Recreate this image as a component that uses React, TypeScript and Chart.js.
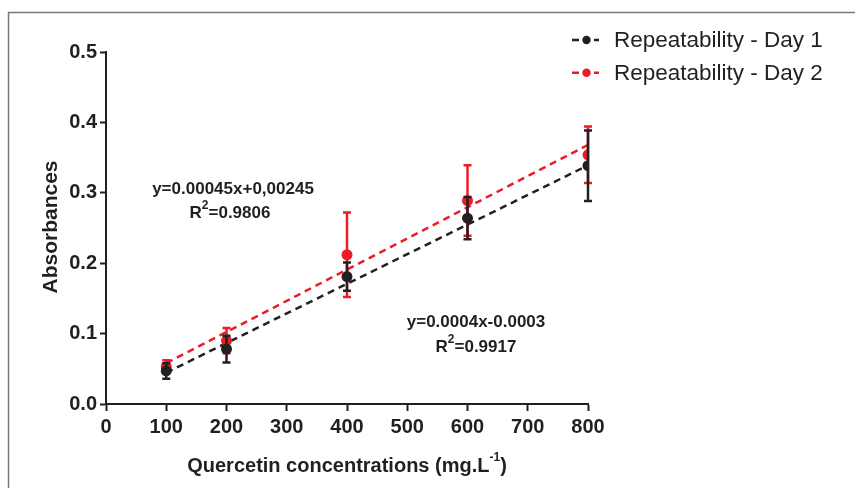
import React, { useEffect, useRef } from "react";
import { Chart, registerables } from "chart.js";

Chart.register(...registerables);

// ---- Data ----
const concentrations = [100, 200, 400, 600, 800];
const day1Means = [0.047, 0.078, 0.181, 0.264, 0.3385];
const day1Errors = [0.011, 0.019, 0.02, 0.03, 0.05];
const day2Means = [0.053, 0.09, 0.212, 0.289, 0.354];
const day2Errors = [0.009, 0.018, 0.06, 0.05, 0.04];
const fitX = [100, 800];
const day1Fit = [0.0445, 0.339];
const day2Fit = [0.058, 0.368];
const seriesNames = ["Repeatability - Day 1", "Repeatability - Day 2"];
const seriesColors = ["#231f20", "#ed1c24"];
const xTickValues = [0, 100, 200, 300, 400, 500, 600, 700, 800];
const yTickValues = [0.0, 0.1, 0.2, 0.3, 0.4, 0.5];
const yTitle = "Absorbances";
const xTitleMain = "Quercetin concentrations (mg.L";
const xTitleSup = "-1";
const xTitleEnd = ")";
const equationDay2 = "y=0.00045x+0,00245";
const r2Day2 = "0.9806";
const equationDay1 = "y=0.0004x-0.0003";
const r2Day1 = "0.9917";

const FONT = "'Liberation Sans', Arial, Helvetica, sans-serif";
const INK = "#231f20";

function drawR2(ctx: CanvasRenderingContext2D, value: string, cx: number, cy: number) {
  const big = "bold 17px " + FONT;
  const small = "bold 12px " + FONT;
  ctx.font = big;
  const wR = ctx.measureText("R").width;
  const wRest = ctx.measureText("=" + value).width;
  ctx.font = small;
  const wS = ctx.measureText("2").width;
  const total = wR + wS + wRest;
  let x = cx - total / 2;
  ctx.textAlign = "left";
  ctx.textBaseline = "middle";
  ctx.font = big;
  ctx.fillText("R", x, cy);
  x += wR;
  ctx.font = small;
  ctx.fillText("2", x, cy - 7);
  x += wS;
  ctx.font = big;
  ctx.fillText("=" + value, x, cy);
}

const errorBarPlugin = {
  id: "errorBars",
  beforeDatasetDraw(chart: any, args: any) {
    const ds = chart.data.datasets[args.index];
    if (!ds.errors) return;
    const { ctx } = chart;
    const xs = chart.scales.x;
    const ys = chart.scales.y;
    ctx.save();
    ctx.strokeStyle = ds.borderColor;
    ctx.lineWidth = 2.5;
    ctx.lineCap = "butt";
    ds.data.forEach((p: any, i: number) => {
      const px = xs.getPixelForValue(p.x);
      const top = ys.getPixelForValue(p.y + ds.errors[i]);
      const bot = ys.getPixelForValue(p.y - ds.errors[i]);
      ctx.beginPath();
      ctx.moveTo(px, top);
      ctx.lineTo(px, bot);
      ctx.moveTo(px - 4, top);
      ctx.lineTo(px + 4, top);
      ctx.moveTo(px - 4, bot);
      ctx.lineTo(px + 4, bot);
      ctx.stroke();
    });
    ctx.restore();
  },
};

const overlayPlugin = {
  id: "overlay",
  beforeDraw(chart: any) {
    const { ctx, width, height } = chart;
    ctx.save();
    ctx.fillStyle = "#ffffff";
    ctx.fillRect(0, 0, width, height);
    ctx.restore();
  },
  afterDraw(chart: any) {
    const { ctx, width, height } = chart;
    ctx.save();
    // frame
    ctx.strokeStyle = "#777777";
    ctx.lineWidth = 1.5;
    ctx.beginPath();
    ctx.moveTo(8.5, height);
    ctx.lineTo(8.5, 12.5);
    ctx.lineTo(width, 12.5);
    ctx.stroke();

    ctx.fillStyle = INK;
    // y title
    ctx.save();
    ctx.translate(51, 227);
    ctx.rotate(-Math.PI / 2);
    ctx.font = "bold 21px " + FONT;
    ctx.textAlign = "center";
    ctx.textBaseline = "middle";
    ctx.fillText(yTitle, 0, 0);
    ctx.restore();

    // x title with superscript
    {
      const big = "bold 20px " + FONT;
      const small = "bold 12px " + FONT;
      ctx.font = big;
      const w1 = ctx.measureText(xTitleMain).width;
      const w3 = ctx.measureText(xTitleEnd).width;
      ctx.font = small;
      const w2 = ctx.measureText(xTitleSup).width;
      let x = 347 - (w1 + w2 + w3) / 2;
      const y = 466;
      ctx.textAlign = "left";
      ctx.textBaseline = "middle";
      ctx.font = big;
      ctx.fillText(xTitleMain, x, y);
      x += w1;
      ctx.font = small;
      ctx.fillText(xTitleSup, x, y - 8);
      x += w2;
      ctx.font = big;
      ctx.fillText(xTitleEnd, x, y);
    }

    // legend
    seriesNames.forEach((name, i) => {
      const y = 40 + i * 32.7;
      const c = seriesColors[i];
      ctx.strokeStyle = c;
      ctx.fillStyle = c;
      ctx.lineWidth = 2.5;
      ctx.beginPath();
      ctx.moveTo(572, y);
      ctx.lineTo(579, y);
      ctx.moveTo(594, y);
      ctx.lineTo(599, y);
      ctx.stroke();
      ctx.beginPath();
      ctx.arc(586.5, y, 4.2, 0, Math.PI * 2);
      ctx.fill();
      ctx.fillStyle = INK;
      ctx.font = "22.5px " + FONT;
      ctx.textAlign = "left";
      ctx.textBaseline = "middle";
      ctx.fillText(name, 614, y + 1);
    });

    // annotations
    ctx.fillStyle = INK;
    ctx.font = "bold 17px " + FONT;
    ctx.textAlign = "center";
    ctx.textBaseline = "middle";
    ctx.fillText(equationDay2, 233, 189);
    drawR2(ctx, r2Day2, 230, 213);
    ctx.font = "bold 17px " + FONT;
    ctx.textAlign = "center";
    ctx.fillText(equationDay1, 476, 322);
    drawR2(ctx, r2Day1, 476, 347);

    ctx.restore();
  },
};

export default function App() {
  const canvasRef = useRef<HTMLCanvasElement | null>(null);

  useEffect(() => {
    if (!canvasRef.current) return;
    const pts = (means: number[]) => concentrations.map((x, i) => ({ x, y: means[i] }));
    const fit = (vals: number[]) => fitX.map((x, i) => ({ x, y: vals[i] }));

    const chart = new Chart(canvasRef.current, {
      type: "scatter",
      data: {
        datasets: [
          {
            label: seriesNames[0],
            data: pts(day1Means),
            errors: day1Errors,
            borderColor: seriesColors[0],
            backgroundColor: seriesColors[0],
            pointBackgroundColor: seriesColors[0],
            pointBorderColor: seriesColors[0],
            pointRadius: 5.5,
            pointBorderWidth: 0,
            showLine: false,
          } as any,
          {
            label: seriesNames[1],
            data: pts(day2Means),
            errors: day2Errors,
            borderColor: seriesColors[1],
            backgroundColor: seriesColors[1],
            pointBackgroundColor: seriesColors[1],
            pointBorderColor: seriesColors[1],
            pointRadius: 5.5,
            pointBorderWidth: 0,
            showLine: false,
          } as any,
          {
            label: "fit1",
            data: fit(day1Fit),
            borderColor: seriesColors[0],
            borderWidth: 2.5,
            borderDash: [7, 5],
            pointRadius: 0,
            showLine: true,
            fill: false,
          } as any,
          {
            label: "fit2",
            data: fit(day2Fit),
            borderColor: seriesColors[1],
            borderWidth: 2.5,
            borderDash: [7, 5],
            pointRadius: 0,
            showLine: true,
            fill: false,
          } as any,
        ],
      },
      options: {
        responsive: false,
        animation: false,
        devicePixelRatio: 1,
        layout: { padding: { top: 52, right: 267, bottom: 0, left: 0 } },
        plugins: {
          legend: { display: false },
          tooltip: { enabled: false },
        },
        scales: {
          x: {
            type: "linear",
            min: 0,
            max: 800,
            afterBuildTicks: (s: any) => {
              s.ticks = xTickValues.map((v) => ({ value: v }));
            },
            afterFit: (s: any) => {
              s.height = 84;
            },
            grid: {
              display: true,
              drawOnChartArea: false,
              drawTicks: true,
              tickLength: 7,
              tickWidth: 2,
              tickColor: INK,
            },
            border: { display: true, color: INK, width: 2 },
            ticks: {
              color: INK,
              padding: 4,
              maxRotation: 0,
              font: { family: FONT, size: 20, weight: "bold" },
              callback: (v: any) => String(v),
            },
          },
          y: {
            type: "linear",
            min: 0,
            max: 0.5,
            afterBuildTicks: (s: any) => {
              s.ticks = yTickValues.map((v) => ({ value: v }));
            },
            afterFit: (s: any) => {
              s.width = 106;
            },
            grid: {
              display: true,
              drawOnChartArea: false,
              drawTicks: true,
              tickLength: 6,
              tickWidth: 2,
              tickColor: INK,
            },
            border: { display: true, color: INK, width: 2 },
            ticks: {
              color: INK,
              padding: 3,
              font: { family: FONT, size: 20, weight: "bold" },
              callback: (v: any) => Number(v).toFixed(1),
            },
          },
        },
      } as any,
      plugins: [overlayPlugin, errorBarPlugin],
    });
    return () => chart.destroy();
  }, []);

  return (
    <div style={{ position: "absolute", left: 0, top: 0, width: 855, height: 488 }}>
      <canvas ref={canvasRef} width={855} height={488} style={{ display: "block" }} />
    </div>
  );
}
